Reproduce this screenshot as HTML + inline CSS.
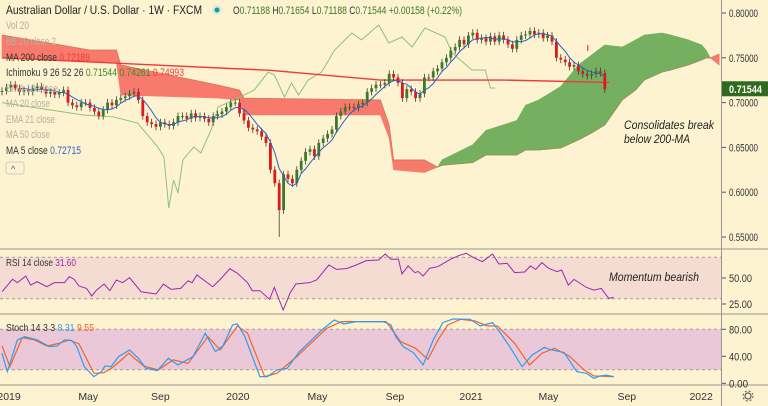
<!DOCTYPE html>
<html><head><meta charset="utf-8"><style>
body{margin:0;background:#fdf3d0;}
svg{display:block;font-family:"Liberation Sans",sans-serif;}
</style></head><body>
<svg id="c" width="768" height="406" viewBox="0 0 768 406" xmlns="http://www.w3.org/2000/svg">
<rect x="0" y="0" width="768" height="406" fill="#fdf3d0"/>
<g id="bands"></g>
<g id="main"></g>
<g id="ui"></g>
</svg>
<script>
// ---- data ----
const closes=[0.713,0.717,0.72,0.716,0.712,0.714,0.712,0.716,
0.718,0.715,0.71,0.712,0.709,0.711,0.714,
0.70,0.697,0.695,0.70,0.70,
0.694,0.69,0.685,0.692,0.70,0.697,
0.703,0.705,0.707,0.71,0.712,0.703,
0.685,0.678,0.676,0.673,0.678,0.676,
0.674,0.678,0.685,0.685,0.682,0.688,0.683,0.685,
0.682,0.678,0.685,0.687,0.69,0.695,0.70,
0.70,0.688,0.680,0.672,0.670,0.668,
0.662,0.655,0.625,0.61,
0.58,0.62,0.615,0.61,0.625,
0.635,0.645,0.648,0.640,0.655,
0.660,0.665,0.670,0.685,0.690,0.695,
0.695,0.694,0.698,0.700,0.712,0.716,
0.72,0.72,0.722,0.732,0.728,0.722,
0.705,0.715,0.712,0.705,0.71,
0.728,0.728,0.735,0.738,0.745,
0.750,0.758,0.762,0.770,0.765,0.775,
0.778,0.770,0.772,0.768,0.774,0.768,0.775,
0.770,0.765,0.760,0.770,0.775,0.776,
0.780,0.776,0.778,0.772,0.775,0.768,
0.750,0.748,0.745,0.740,0.742,0.735,
0.732,0.730,0.732,0.735,0.733,0.715];
const firstOpen=0.712;
const ma200Weeks=[0,61,68,86,114,138];
const ma200Vals=[0.750,0.736,0.733,0.7252,0.7252,0.7225];
const cloudWeeks=[0,20,26,27,49,54,55,86,88,89,96,99,100,107,110,117,119,122,127,131,134,137,141,144,146,150,152,156,159,160,161,163];
const spanA=[0.7498,0.7453,0.7453,0.7085,0.705,0.703,0.6862,0.6862,0.660,0.625,0.622,0.628,0.636,0.653,0.669,0.680,0.697,0.703,0.718,0.742,0.7531,0.7643,0.762,0.770,0.7754,0.7777,0.7754,0.770,0.7643,0.7587,0.7498,0.742];
const spanB=[0.7754,0.7587,0.7587,0.742,0.7196,0.714,0.705,0.703,0.675,0.636,0.636,0.628,0.630,0.633,0.6415,0.6415,0.647,0.6471,0.6493,0.6583,0.666,0.675,0.703,0.714,0.7252,0.734,0.7364,0.742,0.7475,0.7498,0.7498,0.7542];
const lagWeeks=[0,18.5,25.3,30.8,35.4,36.8,37.9,39,40,41.1,43.6,45.2,47.5,49.1,52.7,57.3,60.5,61.9,64.2,65.8,67.4,69.6,72.6,75.6,79.5,81.7,85.6,87.9,90.9,93.2,96.1,100.7,102.3,106.8,109.8,111,112.1];
const lagVals=[0.70,0.6862,0.684,0.6772,0.6505,0.6393,0.5824,0.6136,0.5991,0.636,0.6505,0.6438,0.6694,0.695,0.703,0.714,0.734,0.7308,0.7062,0.722,0.7085,0.7252,0.734,0.7587,0.7777,0.770,0.7866,0.7665,0.7732,0.762,0.7832,0.7732,0.7554,0.7364,0.7364,0.7163,0.7163];
const rsiWeeks=[0,2.4,3.5,5.4,6.5,8,10.2,11.9,14.2,15.3,16.4,17.5,19.2,20.4,21.5,23.2,24.5,26,27.4,29,31.6,35,36.7,38.4,40.6,42.3,43.2,44.3,47.9,49.6,51.8,53.5,55.8,56.9,58.6,60.8,61.9,63.9,65.5,66.8,69.9,71.5,74.3,76,78.3,80.5,82.8,85.6,87.1,88.4,90.1,90.9,92.3,93.8,94.6,95.7,97.2,99.1,101.9,103.6,105.5,107.5,109.2,111.5,112.9,114.8,116.5,118.8,120.1,121.3,122.7,124.2,126.1,127.2,128.7,130,132.8,134.5,136.2,137.9,139];
const rsiVals=[36.8,48.7,45.5,51.9,43.2,46.4,41.6,45.5,45.5,51.3,48.7,42.3,40.0,32.7,38.4,44.2,37.8,48.1,45.5,50.3,36.8,34.6,44.2,39.1,40.0,47.4,45.5,52.9,41.6,48.7,59.0,54.5,45.5,37.8,37.8,29.5,41.0,19.2,35.8,44.2,45.5,48.1,62.5,58.3,59.0,62.5,66.7,67.3,73.1,68.0,68.0,53.9,61.6,55.2,56.2,51.9,59.4,61.0,68.0,71.2,73.7,68.9,65.7,73.1,63.5,64.1,55.2,55.8,61.6,58.3,64.8,59.4,56.2,57.7,43.2,48.7,41.0,38.4,40.0,30.4,31.4];
const kWeeks=[0,1.2,3.5,5.2,8,10.8,12.5,14.2,15.9,17,18.7,20.9,22.6,23.4,24.8,26.5,29,31,32.7,35.3,37.8,40,43.4,46.2,48.5,50.2,52.4,53.5,55.2,58.6,60.3,62.5,64.8,67.6,70.4,72.7,75.5,77.7,80.5,86.7,88.4,89.5,91.2,93.5,95.7,98,100.2,102.5,106.4,108.7,111.5,113.2,115.4,118.2,120.5,123.3,124.4,127.8,130.6,132.8,134.5,135.9,137.3,139];
const kVals=[44.4,17.3,64.2,69.1,64.2,54.3,55.3,64.2,63.2,54.3,24.7,9.9,17.3,25.7,24.7,39.5,49.4,37,22.2,18.8,37,27.2,39.5,74.1,46.9,55.3,86.4,87.9,69.1,9.9,9.9,19.8,22.2,46.9,64.2,79,93.8,87.9,91.4,91.4,86.4,69.1,54.3,45.4,27.2,64.2,89.9,95.3,94.8,84.9,89.9,75.1,54.3,24.7,42,53.3,50.4,45.4,17.3,14.8,7.4,10.9,11.9,9.9];
const dWeeks=[0,1.8,4.6,7.4,10.2,13,15.3,17.5,20.9,23.2,25.4,28.8,32.2,35.5,38.9,42.3,46.8,49.6,53.5,55.8,59.7,62.5,67,73.8,77.2,80.5,87.3,90.6,94,96.8,99.1,101.3,104.2,107.5,110.3,112.6,116.5,119.9,122.7,125.5,128.9,132.3,134.5,139];
const dVals=[55.3,24.7,67.7,64.2,55.3,59.3,64.2,58.3,14.8,15.8,24.7,44.4,25.7,19.8,34.6,29.6,69.1,49.4,84.9,74.1,9.9,14.8,39.5,81.5,91.4,91.4,91.4,61.7,51.9,35.6,64.2,86.4,94.8,92.3,84.9,84.9,59.3,27.2,44.4,51.9,40.5,19.8,10.9,9.9];
const priceTicks=[0.80,0.75,0.70,0.65,0.60,0.55];
const rsiTicks=[50,25];
const stochTicks=[80,40,0];
const timeLabels=["2019","May","Sep","2020","May","Sep","2021","May","Sep","2022"];
const timeWeeks=[1.6,19.6,36,53.6,71.7,89.3,106.6,124.2,142,158.9];

// ---- axes ----
const xW=w=>2+w*4.4;
const yP=p=>13+(0.80-p)*896;
const yR=v=>278-(v-50)*1.04;
const yS=v=>383.3-v*0.675;
const NS="http://www.w3.org/2000/svg";
function el(tag,attrs,parent,txt){const e=document.createElementNS(NS,tag);for(const k in attrs)e.setAttribute(k,attrs[k]);if(txt!==undefined)e.textContent=txt;(parent||document.getElementById('main')).appendChild(e);return e;}
const bands=document.getElementById('bands'),main=document.getElementById('main'),ui=document.getElementById('ui');

let b=el('rect',{x:0,y:yR(70),width:721,height:yR(30)-yR(70),fill:'#f5dcd2'},bands);


b=el('rect',{x:0,y:yS(80),width:721,height:yS(20)-yS(80),fill:'#ebc8d8'},bands);


[[yR(70)],[yR(30)],[yS(80)],[yS(20)]].forEach(a=>{const l=el('line',{x1:0,x2:721,y1:a[0],y2:a[0],stroke:'#a89a9a','stroke-dasharray':'3,3','stroke-width':1},bands);});

for(let i=0;i<cloudWeeks.length-1;i++){
  const w0=cloudWeeks[i],w1=cloudWeeks[i+1];
  const green=(spanA[i]+spanA[i+1])>(spanB[i]+spanB[i+1]);
  const p=el('polygon',{points:`${xW(w0)},${yP(spanA[i])} ${xW(w1)},${yP(spanA[i+1])} ${xW(w1)},${yP(spanB[i+1])} ${xW(w0)},${yP(spanB[i])}`,fill:green?'#74b05f':'#f77a6c',stroke:green?'#74b05f':'#f77a6c','stroke-width':0.6});
  
  
}
function poly(ws,vs,fy,attrs,name){const pts=ws.map((w,i)=>xW(w)+','+fy(vs[i])).join(' ');const p=el('polyline',Object.assign({points:pts,fill:'none'},attrs));return p;}
poly(cloudWeeks,spanB,yP,{stroke:'#b0764a','stroke-width':0.8,opacity:0.6},'span-b-line');
poly(lagWeeks,lagVals,yP,{stroke:'#8fc07a','stroke-width':1},'lagging-span');
poly(ma200Weeks,ma200Vals,yP,{stroke:'#ef3a3a','stroke-width':1.4},'ma200-line');
let prev=firstOpen;
closes.forEach((c,i)=>{
  const o=prev;prev=c;
  const x=xW(i);const up=c>=o;const col=up?'#3b7a2a':'#e3161b';
  const hi=Math.max(o,c)+0.004, lo=Math.min(o,c)-0.004-(i===63?0.026:0);
  const w=el('line',{x1:x,x2:x,y1:yP(hi),y2:yP(lo),stroke:'#3d3d2a','stroke-width':0.8});
  
  
  const h=Math.max(1,Math.abs(yP(o)-yP(c)));
  const r=el('rect',{x:x-1.4,y:Math.min(yP(o),yP(c)),width:2.8,height:h,fill:col});
  
  
});
const ma5w=[],ma5v=[];
for(let i=4;i<closes.length;i++){ma5w.push(i);ma5v.push((closes[i]+closes[i-1]+closes[i-2]+closes[i-3]+closes[i-4])/5);}
poly(ma5w,ma5v,yP,{stroke:'#2962c4','stroke-width':1},'ma5-line');
let t=el('rect',{x:587,y:45,width:1.5,height:6,fill:'#f06060'});



poly(rsiWeeks,rsiVals,yR,{stroke:'#9c27b0','stroke-width':1},'rsi-line');
poly(dWeeks,dVals,yS,{stroke:'#f0642a','stroke-width':1.2},'stoch-d-line');
poly(kWeeks,kVals,yS,{stroke:'#2f9bf0','stroke-width':1.2},'stoch-k-line');

[[249],[314],[385]].forEach(a=>{const l=el('line',{x1:0,x2:768,y1:a[0],y2:a[0],stroke:'#9a9590','stroke-width':1},ui);});
let ax=el('line',{x1:721.5,x2:721.5,y1:0,y2:406,stroke:'#9a9590','stroke-width':1},ui);


function tick(y,label,name,len){const l=el('line',{x1:722,x2:726,y1:y,y2:y,stroke:'#555','stroke-width':1},ui);const tx=el('text',{x:729,y:y+4,'font-size':11,fill:'#333',textLength:len,lengthAdjust:'spacingAndGlyphs'},ui,label);}
priceTicks.forEach(p=>tick(yP(p),p.toFixed(5),'price-tick-label',29));
rsiTicks.forEach(v=>tick(yR(v),v.toFixed(2),'rsi-tick-label',23));
stochTicks.forEach(v=>tick(yS(v),v.toFixed(2),'stoch-tick-label',v===0?19:23));
timeLabels.forEach((s,i)=>{const tx=el('text',{x:xW(timeWeeks[i]),y:400,'font-size':10.5,fill:'#333','text-anchor':'middle'},ui,s);});
let lp=el('rect',{x:722,y:yP(0.71544)-7.5,width:46,height:15,fill:'#2f6b1e'},ui);


lp=el('text',{x:729,y:yP(0.71544)+4,'font-size':11,fill:'#fff','font-weight':'bold',textLength:33,lengthAdjust:'spacingAndGlyphs'},ui,'0.71544');


</script>
<svg width="768" height="406" style="position:absolute;left:0;top:0" font-family="Liberation Sans, sans-serif">
<g font-size="11">
<text x="6" y="14" font-size="12" fill="#222" textLength="196" lengthAdjust="spacingAndGlyphs">Australian Dollar / U.S. Dollar · 1W · FXCM</text>
<circle cx="217" cy="10" r="5" fill="#d9ead9"/><circle cx="217" cy="10" r="2.5" fill="#1a9a88"/>
<text x="233" y="14" fill="#333" textLength="229" lengthAdjust="spacingAndGlyphs">O<tspan fill="#3b7a2a">0.71188</tspan> H<tspan fill="#3b7a2a">0.71654</tspan> L<tspan fill="#3b7a2a">0.71188</tspan> C<tspan fill="#3b7a2a">0.71544</tspan> <tspan fill="#3b7a2a">+0.00158 (+0.22%)</tspan></text>
<text x="6" y="29" fill="#b5b0a0" textLength="23" lengthAdjust="spacingAndGlyphs">Vol 20</text>
<text x="6" y="45" fill="#b5b0a0" textLength="50" lengthAdjust="spacingAndGlyphs">BB 20 close 2</text>
<text x="6" y="61" fill="#333" textLength="84" lengthAdjust="spacingAndGlyphs">MA 200 close <tspan fill="#ef3a3a">0.72189</tspan></text>
<text x="6" y="76" fill="#333" textLength="178" lengthAdjust="spacingAndGlyphs">Ichimoku 9 26 52 26 <tspan fill="#3b8a2a">0.71544</tspan> <tspan fill="#3b8a2a">0.74261</tspan> <tspan fill="#ef3a3a">0.74993</tspan></text>
<text x="6" y="92" fill="#b5b0a0" textLength="52" lengthAdjust="spacingAndGlyphs">EMA 10 close</text>
<text x="6" y="107" fill="#b5b0a0" textLength="44" lengthAdjust="spacingAndGlyphs">MA 20 close</text>
<text x="6" y="123" fill="#b5b0a0" textLength="49" lengthAdjust="spacingAndGlyphs">EMA 21 close</text>
<text x="6" y="138" fill="#b5b0a0" textLength="44" lengthAdjust="spacingAndGlyphs">MA 50 close</text>
<text x="6" y="154" fill="#333" textLength="75" lengthAdjust="spacingAndGlyphs">MA 5 close <tspan fill="#2962c4">0.72715</tspan></text>
<rect x="6" y="162" width="18" height="12" fill="none" stroke="#ccc" rx="2"/>
<text x="11" y="172" fill="#555" font-size="9">^</text>
<text x="6" y="266" font-size="10.5" fill="#333" textLength="70" lengthAdjust="spacingAndGlyphs">RSI 14 close <tspan fill="#9c27b0">31.60</tspan></text>
<text x="6" y="331" font-size="10.5" fill="#333" textLength="88" lengthAdjust="spacingAndGlyphs">Stoch 14 3 3 <tspan fill="#2f9bf0">8.31</tspan> <tspan fill="#f0642a">9.55</tspan></text>
</g>
<text x="624" y="129" font-size="12" font-style="italic" fill="#222" textLength="90" lengthAdjust="spacingAndGlyphs">Consolidates break</text>
<text x="624" y="143" font-size="12" font-style="italic" fill="#222" textLength="66" lengthAdjust="spacingAndGlyphs">below 200-MA</text>
<text x="609" y="281" font-size="12" font-style="italic" fill="#222" textLength="90" lengthAdjust="spacingAndGlyphs">Momentum bearish</text>
<g><circle cx="748" cy="396" r="3" fill="none" stroke="#555" stroke-width="1.2"/><circle cx="748" cy="396" r="5" fill="none" stroke="#555" stroke-width="1" stroke-dasharray="2,2"/></g>
</svg>
</body></html>
